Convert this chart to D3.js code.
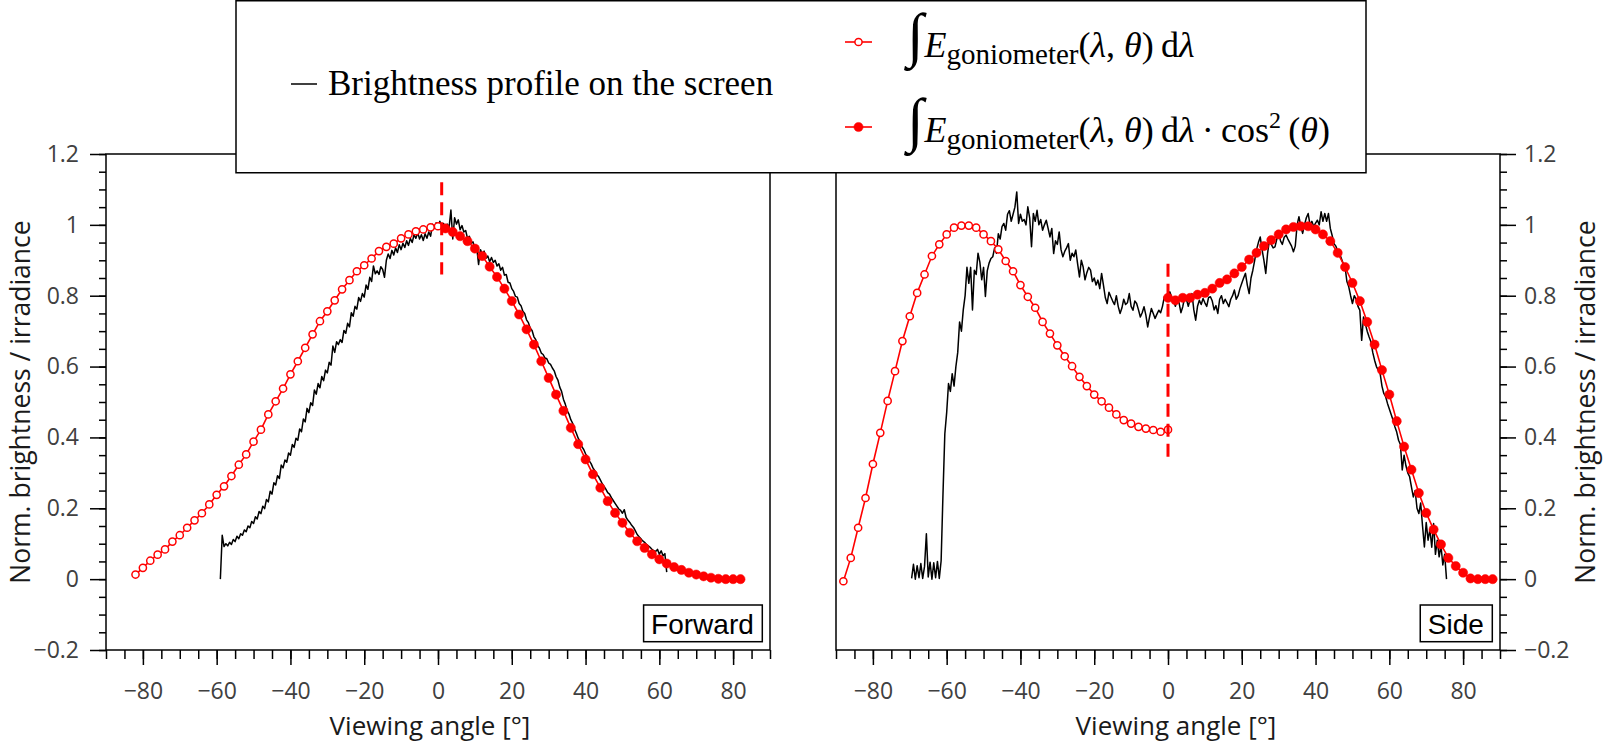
<!DOCTYPE html>
<html>
<head>
<meta charset="utf-8">
<script src="https://cdn.jsdelivr.net/npm/d3@7"></script>
<style>
  body { margin: 0; background: #fff; }
  svg { display: block; }
</style>
</head>
<body>
<svg id="chart" width="1603" height="745"></svg>
<script>
// ---- data: forward panel (left) ----
var lineStep = 0.5;     // measured profile sampled every 0.5 deg
var markerStep = 2;     // goniometer sampled every 2 deg

var fwdLineStart = -59;
var fwdBrightness = [
  0.000, 0.124, 0.092, 0.100, 0.094, 0.104, 0.098, 0.112, 0.106, 0.121, 0.114, 0.128, 0.124, 0.139, 0.134, 0.150, 0.145, 0.163,
  0.157, 0.176, 0.170, 0.191, 0.185, 0.206, 0.199, 0.225, 0.218, 0.248, 0.240, 0.272, 0.266, 0.292, 0.284, 0.322, 0.314, 0.336,
  0.330, 0.356, 0.350, 0.380, 0.372, 0.398, 0.392, 0.424, 0.416, 0.452, 0.444, 0.482, 0.470, 0.498, 0.490, 0.534, 0.522, 0.552,
  0.540, 0.572, 0.560, 0.590, 0.582, 0.612, 0.604, 0.658, 0.640, 0.670, 0.662, 0.676, 0.668, 0.702, 0.694, 0.722, 0.712, 0.752,
  0.742, 0.770, 0.762, 0.795, 0.784, 0.806, 0.796, 0.830, 0.818, 0.852, 0.840, 0.884, 0.862, 0.870, 0.860, 0.882, 0.874, 0.852,
  0.900, 0.918, 0.905, 0.928, 0.915, 0.935, 0.922, 0.944, 0.930, 0.948, 0.936, 0.955, 0.942, 0.962, 0.950, 0.972, 0.962, 0.978,
  0.960, 0.972, 0.956, 0.975, 0.962, 0.980, 0.968, 1.002, 0.990, 1.006, 0.996, 1.010, 0.998, 1.004, 0.990, 1.002, 0.992, 1.042,
  0.960, 1.020, 1.002, 1.014, 0.986, 0.998, 0.980, 0.984, 0.962, 0.968, 0.948, 0.952, 0.932, 0.936, 0.888, 0.930, 0.918, 0.926,
  0.906, 0.912, 0.896, 0.908, 0.894, 0.900, 0.884, 0.890, 0.872, 0.880, 0.858, 0.860, 0.838, 0.836, 0.820, 0.812, 0.798, 0.796,
  0.778, 0.772, 0.756, 0.750, 0.732, 0.724, 0.708, 0.702, 0.684, 0.676, 0.660, 0.652, 0.638, 0.634, 0.624, 0.622, 0.610, 0.606,
  0.596, 0.588, 0.572, 0.562, 0.542, 0.530, 0.508, 0.494, 0.476, 0.466, 0.450, 0.440, 0.424, 0.412, 0.398, 0.388, 0.374, 0.366,
  0.354, 0.344, 0.334, 0.326, 0.314, 0.306, 0.296, 0.290, 0.280, 0.270, 0.262, 0.254, 0.244, 0.240, 0.230, 0.222, 0.214, 0.206,
  0.198, 0.194, 0.186, 0.196, 0.174, 0.166, 0.160, 0.152, 0.146, 0.136, 0.126, 0.120, 0.114, 0.108, 0.104, 0.098, 0.094, 0.090,
  0.084, 0.080, 0.078, 0.084, 0.070, 0.080, 0.066, 0.072, 0.020
];

var fwdOpenStart = -82;
var fwdIrradiance = [
  0.013, 0.032, 0.052, 0.069, 0.084, 0.106, 0.124, 0.145, 0.166, 0.186, 0.211, 0.238, 0.262, 0.291,
  0.323, 0.352, 0.388, 0.422, 0.465, 0.502, 0.538, 0.578, 0.615, 0.653, 0.691, 0.728, 0.756, 0.787,
  0.818, 0.844, 0.869, 0.886, 0.905, 0.926, 0.938, 0.947, 0.962, 0.973, 0.982, 0.987, 0.993, 0.996
];

var fwdFilledStart = 2;
var fwdIrradianceCos = [
  0.990, 0.980, 0.968, 0.954, 0.933, 0.912, 0.882, 0.853, 0.820, 0.785, 0.747, 0.705, 0.662, 0.615,
  0.568, 0.521, 0.475, 0.427, 0.381, 0.338, 0.296, 0.258, 0.220, 0.187, 0.159, 0.131, 0.107, 0.088,
  0.070, 0.056, 0.044, 0.034, 0.026, 0.018, 0.013, 0.008, 0.004, 0.001, 0.000, 0.000, 0.000
];

var fwdDash = [1, 0.86, 1.12];   // angle, from, to

// ---- data: side panel (right) ----
var sideLineStart = -69.5;
var sideBrightness = [
  0.002, 0.042, 0.000, 0.038, 0.004, 0.044, 0.002, 0.036, 0.128, 0.006, 0.048, 0.000, 0.046, 0.004, 0.050, 0.002, 0.052, 0.240,
  0.410, 0.470, 0.552, 0.530, 0.580, 0.545, 0.600, 0.640, 0.726, 0.700, 0.760, 0.800, 0.880, 0.835, 0.880, 0.760, 0.872, 0.860,
  0.920, 0.895, 0.845, 0.880, 0.798, 0.870, 0.892, 0.905, 0.910, 0.935, 0.920, 0.975, 0.960, 0.995, 1.004, 0.985, 1.030, 1.040,
  1.010, 1.030, 1.050, 1.093, 1.004, 1.030, 1.010, 1.015, 1.000, 1.051, 1.020, 0.938, 1.032, 1.010, 1.041, 1.000, 1.015, 0.985,
  1.000, 1.013, 0.990, 0.966, 0.990, 0.919, 0.955, 0.945, 0.980, 0.930, 0.910, 0.925, 0.935, 0.947, 0.900, 0.920, 0.910, 0.929,
  0.890, 0.853, 0.900, 0.881, 0.845, 0.865, 0.880, 0.872, 0.840, 0.850, 0.830, 0.844, 0.820, 0.863, 0.830, 0.795, 0.778, 0.810,
  0.797, 0.785, 0.775, 0.800, 0.770, 0.750, 0.765, 0.790, 0.775, 0.780, 0.806, 0.770, 0.759, 0.785, 0.778, 0.760, 0.740, 0.752,
  0.769, 0.745, 0.712, 0.740, 0.764, 0.750, 0.736, 0.748, 0.759, 0.752, 0.770, 0.797, 0.787, 0.800, 0.811, 0.795, 0.787, 0.770,
  0.790, 0.780, 0.752, 0.769, 0.795, 0.790, 0.770, 0.790, 0.806, 0.760, 0.731, 0.770, 0.787, 0.775, 0.792, 0.780, 0.770, 0.795,
  0.797, 0.785, 0.760, 0.772, 0.750, 0.790, 0.800, 0.778, 0.790, 0.780, 0.769, 0.790, 0.800, 0.816, 0.790, 0.800, 0.820, 0.835,
  0.850, 0.863, 0.830, 0.806, 0.850, 0.872, 0.900, 0.930, 0.950, 0.966, 0.930, 0.900, 0.863, 0.920, 0.957, 0.945, 0.935, 0.938,
  0.960, 0.976, 0.955, 0.945, 0.965, 0.971, 0.960, 0.950, 0.940, 0.924, 0.940, 1.000, 1.023, 0.995, 0.976, 1.000, 1.020, 1.032,
  1.000, 1.010, 0.995, 1.005, 1.013, 1.000, 1.037, 1.010, 1.032, 1.010, 1.032, 0.990, 0.970, 0.947, 0.940, 0.925, 0.919, 0.905,
  0.890, 0.881, 0.840, 0.825, 0.800, 0.778, 0.800, 0.790, 0.770, 0.759, 0.674, 0.740, 0.720, 0.700, 0.684, 0.670, 0.640, 0.618,
  0.600, 0.590, 0.581, 0.545, 0.524, 0.515, 0.496, 0.480, 0.465, 0.449, 0.430, 0.415, 0.392, 0.380, 0.308, 0.350, 0.320, 0.300,
  0.289, 0.260, 0.232, 0.250, 0.200, 0.185, 0.215, 0.150, 0.091, 0.160, 0.110, 0.140, 0.090, 0.157, 0.070, 0.110, 0.063, 0.095,
  0.040, 0.070, 0.000
];

var sideOpenStart = -88;
var sideIrradiance = [
  -0.006, 0.060, 0.145, 0.229, 0.325, 0.413, 0.503, 0.587, 0.672, 0.742, 0.808, 0.860, 0.912, 0.945, 0.973,
  0.992, 0.998, 0.998, 0.992, 0.973, 0.954, 0.931, 0.898, 0.869, 0.830, 0.797, 0.766, 0.726, 0.693, 0.660,
  0.629, 0.601, 0.571, 0.545, 0.521, 0.502, 0.484, 0.465, 0.449, 0.439, 0.430, 0.425, 0.421, 0.416, 0.422
];

var sideFilledStart = 0;
var sideIrradianceCos = [
  0.794, 0.787, 0.794, 0.794, 0.803, 0.808, 0.820, 0.836, 0.846, 0.863, 0.881, 0.902, 0.921, 0.940, 0.957,
  0.973, 0.987, 0.994, 0.996, 0.996, 0.987, 0.973, 0.954, 0.921, 0.881, 0.836, 0.785, 0.726, 0.662, 0.590,
  0.521, 0.446, 0.374, 0.309, 0.243, 0.187, 0.140, 0.098, 0.060, 0.037, 0.018, 0.002, 0.000, 0.000, 0.000
];

var sideDash = [0, 0.34, 0.89];

// ---- axes ----
var xMajorTicks = [-80, -60, -40, -20, 0, 20, 40, 60, 80];
var yMajorTicks = [-0.2, 0, 0.2, 0.4, 0.6, 0.8, 1, 1.2];
var panelNames = ["Forward", "Side"];
var xTitle = "Viewing angle [°]";
var yTitle = "Norm. brightness / irradiance";
var legendLabel = "Brightness profile on the screen";

var svg = d3.select("#chart");
var plotTop = 154, plotBottom = 650;
var RED = "#ff0000";
var tickFont = "'Open Sans', sans-serif";

function fmt(v) {
  return String(Math.round(v * 10) / 10).replace("-", "\u2212");
}

function styleAxis(sel) {
  sel.select(".domain").remove();
  sel.selectAll(".tick line").attr("stroke", "#000").attr("stroke-width", 1.5);
  sel.selectAll(".tick text")
    .attr("fill", "#404040")
    .style("font-family", tickFont)
    .style("font-size", "23px");
}

function drawPanel(cfg) {
  var x = d3.scaleLinear().domain([-90, 90]).range([cfg.left, cfg.right]);
  var y = d3.scaleLinear().domain([-0.2, 1.2]).range([plotBottom, plotTop]);
  var g = svg.append("g");

  // bottom axis: minor every 5, major every 20
  g.append("g").attr("transform", "translate(0," + plotBottom + ")")
    .call(d3.axisBottom(x).tickValues(d3.range(-90, 91, 5)).tickSize(9).tickFormat(""))
    .call(styleAxis);
  g.append("g").attr("transform", "translate(0," + plotBottom + ")")
    .call(d3.axisBottom(x).tickValues(xMajorTicks).tickSize(15).tickPadding(18).tickFormat(fmt))
    .call(styleAxis);

  // y axis on the outer side
  var yMinor = d3.range(-0.2, 1.2001, 0.05);
  if (cfg.yAxis === "left") {
    g.append("g").attr("transform", "translate(" + cfg.left + ",0)")
      .call(d3.axisLeft(y).tickValues(yMinor).tickSize(7).tickFormat(""))
      .call(styleAxis);
    g.append("g").attr("transform", "translate(" + cfg.left + ",0)")
      .call(d3.axisLeft(y).tickValues(yMajorTicks).tickSize(16).tickPadding(11).tickFormat(fmt))
      .call(styleAxis);
  } else {
    g.append("g").attr("transform", "translate(" + cfg.right + ",0)")
      .call(d3.axisRight(y).tickValues(yMinor).tickSize(7).tickFormat(""))
      .call(styleAxis);
    g.append("g").attr("transform", "translate(" + cfg.right + ",0)")
      .call(d3.axisRight(y).tickValues(yMajorTicks).tickSize(16).tickPadding(8).tickFormat(fmt))
      .call(styleAxis);
  }

  // frame
  g.append("rect")
    .attr("x", cfg.left).attr("y", plotTop)
    .attr("width", cfg.right - cfg.left).attr("height", plotBottom - plotTop)
    .attr("fill", "none").attr("stroke", "#000").attr("stroke-width", 1.5);

  // measured brightness
  var bLine = d3.line()
    .x(function (d, i) { return x(cfg.lineStart + i * lineStep); })
    .y(function (d) { return y(d); });
  g.append("path").datum(cfg.brightness)
    .attr("d", bLine).attr("fill", "none")
    .attr("stroke", "#000").attr("stroke-width", 1.5).attr("stroke-linejoin", "round");

  // goniometer series
  function series(vals, start, filled) {
    var line = d3.line()
      .x(function (d, i) { return x(start + i * markerStep); })
      .y(function (d) { return y(d); });
    g.append("path").datum(vals).attr("d", line)
      .attr("fill", "none").attr("stroke", RED).attr("stroke-width", 1.6);
    g.append("g").selectAll("circle").data(vals).enter().append("circle")
      .attr("cx", function (d, i) { return x(start + i * markerStep); })
      .attr("cy", function (d) { return y(d); })
      .attr("r", filled ? 4.6 : 3.6)
      .attr("fill", filled ? RED : "#fff")
      .attr("stroke", RED).attr("stroke-width", filled ? 0.5 : 1.5);
  }
  series(cfg.cosVals, cfg.filledStart, true);
  series(cfg.openVals, cfg.openStart, false);

  // dashed marker at normal incidence
  g.append("line")
    .attr("x1", x(cfg.dash[0])).attr("x2", x(cfg.dash[0]))
    .attr("y1", y(cfg.dash[2])).attr("y2", y(cfg.dash[1]))
    .attr("stroke", RED).attr("stroke-width", 3).attr("stroke-dasharray", "13,7");

  // panel name box
  var nameBox = g.append("rect");
  var nameText = g.append("text")
    .attr("y", 634)
    .attr("text-anchor", "end")
    .style("font-family", "'Liberation Sans', Arial, sans-serif")
    .style("font-size", "28px")
    .attr("fill", "#000")
    .text(cfg.name);
  var tw = nameText.node().getComputedTextLength();
  var boxRight = cfg.right - 7.7;
  nameText.attr("x", boxRight - 8.5);
  nameBox
    .attr("x", boxRight - tw - 16).attr("y", 605)
    .attr("width", tw + 16).attr("height", 36.7)
    .attr("fill", "#fff").attr("stroke", "#000").attr("stroke-width", 1.5);

  // axis titles
  svg.append("text")
    .attr("x", cfg.xTitleX).attr("y", 735)
    .attr("text-anchor", "middle")
    .style("font-family", tickFont).style("font-size", "26px")
    .attr("fill", "#1a1a1a")
    .text(xTitle);
  svg.append("text")
    .attr("transform", "translate(" + cfg.yTitleX + "," + (plotTop + plotBottom) / 2 + ") rotate(-90)")
    .attr("text-anchor", "middle")
    .style("font-family", tickFont).style("font-size", "26.5px")
    .attr("fill", "#1a1a1a")
    .text(yTitle);
}

drawPanel({
  left: 106, right: 770, yAxis: "left", name: panelNames[0],
  lineStart: fwdLineStart, brightness: fwdBrightness,
  openStart: fwdOpenStart, openVals: fwdIrradiance,
  filledStart: fwdFilledStart, cosVals: fwdIrradianceCos,
  dash: fwdDash, xTitleX: 430, yTitleX: 29.5
});

drawPanel({
  left: 836, right: 1500, yAxis: "right", name: panelNames[1],
  lineStart: sideLineStart, brightness: sideBrightness,
  openStart: sideOpenStart, openVals: sideIrradiance,
  filledStart: sideFilledStart, cosVals: sideIrradianceCos,
  dash: sideDash, xTitleX: 1176, yTitleX: 1595
});

// ---- legend ----
var lg = svg.append("g");
lg.append("rect")
  .attr("x", 236).attr("y", 0.75).attr("width", 1130).attr("height", 172)
  .attr("fill", "#fff").attr("stroke", "#000").attr("stroke-width", 1.5);

var serif = "'Liberation Serif', 'Times New Roman', serif";

lg.append("line").attr("x1", 291).attr("x2", 317).attr("y1", 84).attr("y2", 84)
  .attr("stroke", "#000").attr("stroke-width", 1.5);
lg.append("text").attr("x", 328).attr("y", 95)
  .style("font-family", serif).style("font-size", "35px")
  .text(legendLabel);

function legendMarker(yPos, filled) {
  lg.append("line").attr("x1", 845).attr("x2", 872).attr("y1", yPos).attr("y2", yPos)
    .attr("stroke", RED).attr("stroke-width", 1.6);
  lg.append("circle").attr("cx", 858.5).attr("cy", yPos)
    .attr("r", filled ? 4.6 : 3.6)
    .attr("fill", filled ? RED : "#fff")
    .attr("stroke", RED).attr("stroke-width", filled ? 0.5 : 1.5);
}

function mathText(yBase, parts) {
  var t = lg.append("text").attr("x", 907).attr("y", yBase)
    .style("font-family", serif).style("font-size", "36px");
  parts.forEach(function (p) {
    var s = t.append("tspan").text(p.s);
    if (p.i) s.style("font-style", "italic");
    if (p.f) s.style("font-size", p.f + "px");
    if (p.dy) s.attr("dy", p.dy);
    if (p.dx) s.attr("dx", p.dx);
  });
}

var integralParts = [
  { s: "\u222B", f: 60, dy: -2.5 },
  { s: "E", i: true, dy: 2.5, dx: 1 },
  { s: "goniometer", f: 29, dy: 7 },
  { s: "(", dy: -7 },
  { s: "\u03BB", i: true },
  { s: ", " },
  { s: "\u03B8", i: true },
  { s: ")" },
  { s: "\u2009d" },
  { s: "\u03BB", i: true }
];

legendMarker(42, false);
mathText(57, integralParts);

legendMarker(127, true);
mathText(142, integralParts.concat([
  { s: "\u2009\u00B7\u2009cos" },
  { s: "2", f: 24, dy: -14 },
  { s: "\u2009(", dy: 14 },
  { s: "\u03B8", i: true },
  { s: ")" }
]));
</script>
</body>
</html>
